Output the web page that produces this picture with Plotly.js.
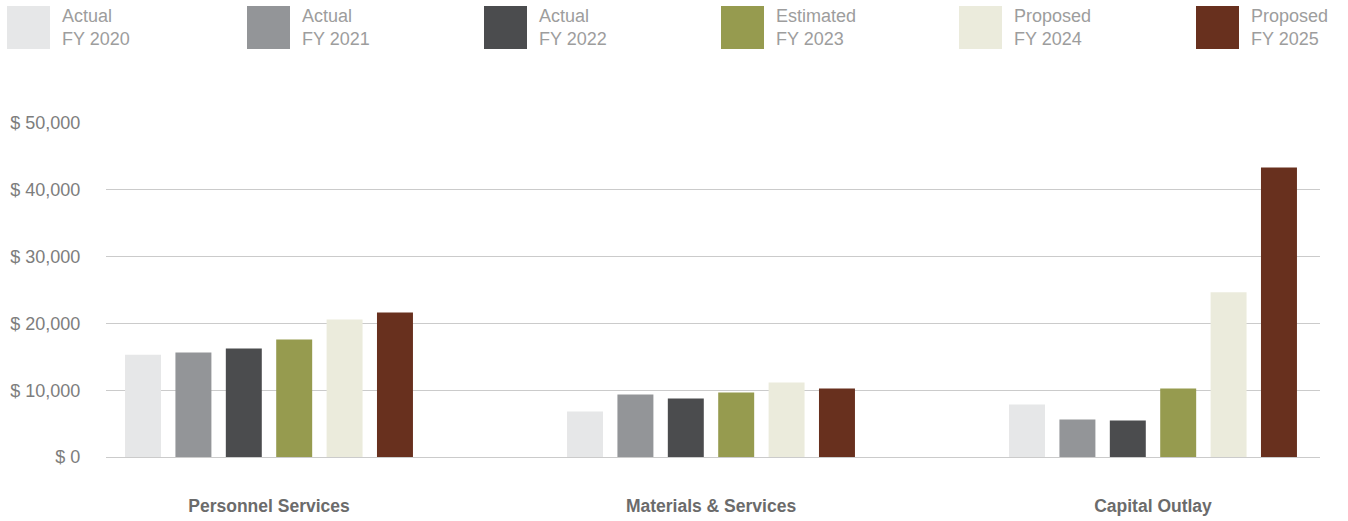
<!DOCTYPE html>
<html>
<head>
<meta charset="utf-8">
<script src="https://cdn.plot.ly/plotly-3.0.1.min.js"></script>
<style>
html,body{margin:0;padding:0;background:#fff;}
#chart{width:1348px;height:521px;}
</style>
</head>
<body>
<div id="chart"></div>
<script>
// ---- data ----
const categories = ["Personnel Services", "Materials & Services", "Capital Outlay"];
const seriesNames = ["Actual<br>FY 2020", "Actual<br>FY 2021", "Actual<br>FY 2022", "Estimated<br>FY 2023", "Proposed<br>FY 2024", "Proposed<br>FY 2025"];
const fy2020 = [15300, 6800, 7850];
const fy2021 = [15650, 9350, 5600];
const fy2022 = [16250, 8750, 5450];
const fy2023 = [17600, 9650, 10250];
const fy2024 = [20600, 11150, 24650];
const fy2025 = [21650, 10250, 43350];
const seriesValues = [fy2020, fy2021, fy2022, fy2023, fy2024, fy2025];
const seriesColors = ["#e6e7e8", "#939598", "#4b4c4e", "#969b4f", "#ebebdc", "#68301e"];
const yTicks = [0, 10000, 20000, 30000, 40000, 50000];
const yTickText = ["$ 0", "$ 10,000", "$ 20,000", "$ 30,000", "$ 40,000", "$ 50,000"];

// ---- layout constants ----
const W = 1348, H = 521;
const M = {l: 106, r: 28, t: 123, b: 64};
const plotW = W - M.l - M.r, plotH = H - M.t - M.b;
const px2x = px => (px - M.l) / plotW;
const px2y = py => (H - M.b - py) / plotH;
const FONT = "Liberation Sans, Arial, sans-serif";

const traces = seriesValues.map((vals, i) => ({
  type: "bar",
  x: categories,
  y: vals,
  name: seriesNames[i],
  marker: {color: seriesColors[i], line: {width: 0}},
  hoverinfo: "x+y",
  showlegend: false
}));

// custom legend: big swatches + two-line labels
const shapes = [];
const annotations = [];
const legendX = [7, 247, 484, 721, 959, 1196], sw = 43;
seriesNames.forEach((n, i) => {
  const x0 = legendX[i];
  shapes.push({
    type: "rect", xref: "paper", yref: "paper",
    x0: px2x(x0), x1: px2x(x0 + sw), y0: px2y(49), y1: px2y(6),
    fillcolor: seriesColors[i], line: {width: 0}, layer: "above"
  });
  annotations.push({
    xref: "paper", yref: "paper",
    x: px2x(x0 + 53), y: px2y(4),
    xanchor: "left", yanchor: "top", align: "left",
    showarrow: false, text: n,
    font: {family: FONT, size: 18, color: "#9d9d9d"}
  });
});

const layout = {
  width: W, height: H,
  margin: M,
  paper_bgcolor: "#ffffff",
  plot_bgcolor: "#ffffff",
  barmode: "group",
  bargap: 0.316,
  bargroupgap: 0.286,
  font: {family: FONT},
  xaxis: {
    type: "category",
    range: [-(269 - M.l) / 442, (M.l + plotW - 269) / 442],
    showgrid: false, showline: false, zeroline: false,
    ticks: "outside", ticklen: 33, tickcolor: "rgba(0,0,0,0)",
    tickfont: {family: FONT, size: 17.5, color: "#6b6b6b", weight: "bold"},
    fixedrange: true
  },
  yaxis: {
    range: [0, 50000],
    tickmode: "array",
    tickvals: yTicks,
    ticktext: yTickText,
    showgrid: true, gridcolor: "#cbcbcb", gridwidth: 1,
    zeroline: true, zerolinecolor: "#cbcbcb", zerolinewidth: 1,
    showline: false,
    ticks: "outside", ticklen: 21, tickcolor: "rgba(0,0,0,0)",
    tickfont: {family: FONT, size: 18, color: "#7d7d7d"},
    fixedrange: true
  },
  shapes: shapes,
  annotations: annotations
};

Plotly.newPlot("chart", traces, layout, {displayModeBar: false, responsive: false});
</script>
</body>
</html>
